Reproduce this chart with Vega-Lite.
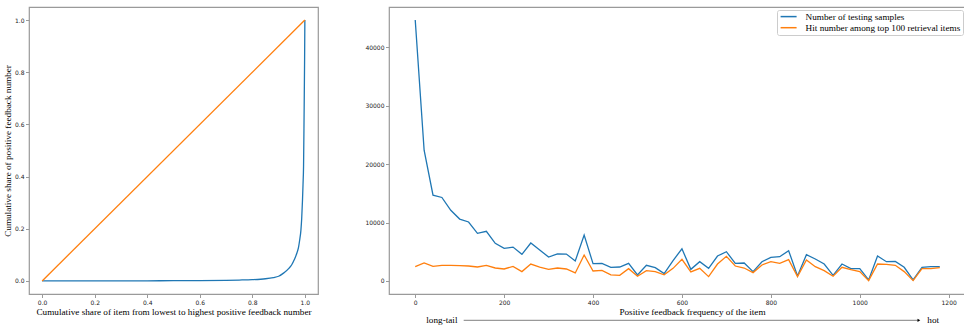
{
  "$schema": "https://vega.github.io/schema/vega-lite/v6.json",
  "background": "white",
  "padding": {"left": 2, "top": 6, "right": 0, "bottom": 0},
  "resolve": {"legend": {"color": "independent"}, "scale": {"color": "independent"}},
  "config": {
    "view": {"stroke": "#9a9a9a", "strokeWidth": 1.2},
    "concat": {"spacing": 45},
    "axis": {
      "domain": false,
      "grid": false,
      "labelFont": "DejaVu Sans",
      "labelFontSize": 6,
      "labelColor": "#222222",
      "tickColor": "#9a9a9a",
      "tickSize": 3.5,
      "tickWidth": 1,
      "labelPadding": 1.5,
      "titleFont": "Liberation Serif",
      "titleFontSize": 9.2,
      "titleFontWeight": "normal",
      "titleColor": "black",
      "titlePadding": 2
    }
  },
  "datasets": {
    "lorenz": [
      {"share": 0, "cum": 0}, {"share": 0.1, "cum": 0.0001}, {"share": 0.2, "cum": 0.0002},
      {"share": 0.3, "cum": 0.0004}, {"share": 0.4, "cum": 0.0006}, {"share": 0.5, "cum": 0.0009},
      {"share": 0.6, "cum": 0.0014}, {"share": 0.7, "cum": 0.0025}, {"share": 0.75, "cum": 0.0035},
      {"share": 0.8, "cum": 0.005}, {"share": 0.85, "cum": 0.0085}, {"share": 0.88, "cum": 0.013},
      {"share": 0.9, "cum": 0.018}, {"share": 0.92, "cum": 0.031}, {"share": 0.94, "cum": 0.049},
      {"share": 0.95, "cum": 0.062}, {"share": 0.96, "cum": 0.082}, {"share": 0.97, "cum": 0.108},
      {"share": 0.976, "cum": 0.13}, {"share": 0.98, "cum": 0.155}, {"share": 0.985, "cum": 0.195},
      {"share": 0.988, "cum": 0.24}, {"share": 0.991, "cum": 0.31}, {"share": 0.993, "cum": 0.37},
      {"share": 0.995, "cum": 0.44}, {"share": 0.997, "cum": 0.63}, {"share": 0.999, "cum": 0.85},
      {"share": 1.0, "cum": 1.0}
    ],
    "equality": [{"share": 0, "cum": 0}, {"share": 1, "cum": 1}],
    "freq": [
      {"freq": 0, "samples": 44700, "hits": 2450}, {"freq": 20, "samples": 22400, "hits": 3080},
      {"freq": 40, "samples": 14700, "hits": 2500}, {"freq": 60, "samples": 14300, "hits": 2680},
      {"freq": 80, "samples": 12100, "hits": 2680}, {"freq": 100, "samples": 10600, "hits": 2620},
      {"freq": 120, "samples": 10100, "hits": 2560}, {"freq": 140, "samples": 8150, "hits": 2390},
      {"freq": 160, "samples": 8500, "hits": 2680}, {"freq": 180, "samples": 6450, "hits": 2220},
      {"freq": 200, "samples": 5580, "hits": 2050}, {"freq": 220, "samples": 5800, "hits": 2500},
      {"freq": 240, "samples": 4560, "hits": 1600}, {"freq": 260, "samples": 6500, "hits": 2900},
      {"freq": 280, "samples": 5300, "hits": 2390}, {"freq": 300, "samples": 4100, "hits": 1990},
      {"freq": 320, "samples": 4620, "hits": 2220}, {"freq": 340, "samples": 4600, "hits": 2050},
      {"freq": 360, "samples": 3420, "hits": 1370}, {"freq": 380, "samples": 7860, "hits": 4440},
      {"freq": 400, "samples": 2960, "hits": 1710}, {"freq": 420, "samples": 3020, "hits": 1820},
      {"freq": 440, "samples": 2340, "hits": 1030}, {"freq": 460, "samples": 2390, "hits": 970},
      {"freq": 480, "samples": 3020, "hits": 2110}, {"freq": 500, "samples": 1030, "hits": 800},
      {"freq": 520, "samples": 2680, "hits": 1770}, {"freq": 540, "samples": 2280, "hits": 1600},
      {"freq": 560, "samples": 1250, "hits": 1050}, {"freq": 580, "samples": 3500, "hits": 2160},
      {"freq": 600, "samples": 5500, "hits": 3700}, {"freq": 620, "samples": 1990, "hits": 1540},
      {"freq": 640, "samples": 3300, "hits": 2170}, {"freq": 660, "samples": 2170, "hits": 740},
      {"freq": 680, "samples": 4270, "hits": 2900}, {"freq": 700, "samples": 5010, "hits": 4220},
      {"freq": 720, "samples": 3020, "hits": 2560}, {"freq": 740, "samples": 3080, "hits": 2220},
      {"freq": 760, "samples": 1600, "hits": 1430}, {"freq": 780, "samples": 3300, "hits": 2740},
      {"freq": 800, "samples": 4050, "hits": 3300}, {"freq": 820, "samples": 4160, "hits": 3020},
      {"freq": 840, "samples": 5190, "hits": 3650}, {"freq": 860, "samples": 860, "hits": 740},
      {"freq": 880, "samples": 4500, "hits": 3590}, {"freq": 900, "samples": 3760, "hits": 2450},
      {"freq": 920, "samples": 2900, "hits": 1770}, {"freq": 940, "samples": 970, "hits": 800},
      {"freq": 960, "samples": 2900, "hits": 2340}, {"freq": 980, "samples": 2110, "hits": 1940},
      {"freq": 1000, "samples": 2110, "hits": 1600}, {"freq": 1020, "samples": 170, "hits": 60},
      {"freq": 1040, "samples": 4270, "hits": 2900}, {"freq": 1060, "samples": 3300, "hits": 2850},
      {"freq": 1080, "samples": 3360, "hits": 2680}, {"freq": 1100, "samples": 2340, "hits": 1600},
      {"freq": 1120, "samples": 170, "hits": 60}, {"freq": 1140, "samples": 2340, "hits": 2110},
      {"freq": 1160, "samples": 2450, "hits": 2110}, {"freq": 1180, "samples": 2450, "hits": 2280}
    ]
  },
  "hconcat": [
    {
      "width": 289,
      "height": 287,
      "layer": [
        {
          "data": {"name": "lorenz"},
          "mark": {"type": "line", "color": "#1f77b4", "strokeWidth": 1.3, "interpolate": "monotone"},
          "encoding": {
            "x": {
              "field": "share", "type": "quantitative",
              "scale": {"domain": [-0.05, 1.05], "nice": false, "zero": false},
              "axis": {"values": [0, 0.2, 0.4, 0.6, 0.8, 1.0], "format": ".1f",
                       "title": "Cumulative share of item from lowest to highest positive feedback number"}
            },
            "y": {
              "field": "cum", "type": "quantitative",
              "scale": {"domain": [-0.05, 1.05], "nice": false, "zero": false},
              "axis": {"values": [0, 0.2, 0.4, 0.6, 0.8, 1.0], "format": ".1f",
                       "title": "Cumulative share of positive feedback number"}
            }
          }
        },
        {
          "data": {"name": "equality"},
          "mark": {"type": "line", "color": "#ff7f0e", "strokeWidth": 1.3},
          "encoding": {
            "x": {"field": "share", "type": "quantitative"},
            "y": {"field": "cum", "type": "quantitative"}
          }
        }
      ]
    },
    {
      "width": 577,
      "height": 287,
      "layer": [
        {
          "data": {"name": "freq"},
          "transform": [{"fold": ["samples", "hits"], "as": ["series", "value"]}],
          "mark": {"type": "line", "strokeWidth": 1.3},
          "encoding": {
            "x": {
              "field": "freq", "type": "quantitative",
              "scale": {"domain": [-59, 1239], "nice": false, "zero": false},
              "axis": {"values": [0, 200, 400, 600, 800, 1000, 1200], "format": "d",
                       "title": "Positive feedback frequency of the item", "titleX": 303}
            },
            "y": {
              "field": "value", "type": "quantitative",
              "scale": {"domain": [-2235, 46935], "nice": false, "zero": false},
              "axis": {"values": [0, 10000, 20000, 30000, 40000], "format": "d", "title": null}
            },
            "color": {
              "field": "series", "type": "nominal",
              "scale": {"domain": ["samples", "hits"], "range": ["#1f77b4", "#ff7f0e"]},
              "legend": {
                "orient": "top-right", "title": null, "offset": 3, "padding": 2,
                "strokeColor": "#cccccc", "fillColor": "white", "cornerRadius": 2,
                "symbolType": "M-1.5,0H6.5", "symbolSize": 16, "symbolStrokeWidth": 1.5,
                "labelFont": "Liberation Serif", "labelFontSize": 9.2, "labelColor": "black",
                "labelOffset": 17.4, "rowPadding": 1.1,
                "labelExpr": "datum.value == 'samples' ? 'Number of testing samples' : 'Hit number among top 100 retrieval items'"
              }
            }
          }
        },
        {
          "data": {"values": [{}]},
          "mark": {"type": "rule", "color": "#999999", "strokeWidth": 1.2},
          "encoding": {
            "x": {"datum": 109}, "x2": {"datum": 1133}, "y": {"datum": -6750}
          }
        },
        {
          "data": {"values": [{}]},
          "mark": {"type": "point", "shape": "triangle-right", "filled": true, "size": 10, "color": "black", "opacity": 1},
          "encoding": {
            "x": {"datum": 1133}, "y": {"datum": -6750}
          }
        },
        {
          "data": {"values": [{}]},
          "mark": {"type": "text", "align": "right", "baseline": "middle", "font": "Liberation Serif", "fontSize": 9.2, "color": "black"},
          "encoding": {
            "x": {"datum": 95}, "y": {"datum": -6750}, "text": {"value": "long-tail"}
          }
        },
        {
          "data": {"values": [{}]},
          "mark": {"type": "text", "align": "left", "baseline": "middle", "font": "Liberation Serif", "fontSize": 9.2, "color": "black"},
          "encoding": {
            "x": {"datum": 1152}, "y": {"datum": -6750}, "text": {"value": "hot"}
          }
        }
      ]
    }
  ]
}
